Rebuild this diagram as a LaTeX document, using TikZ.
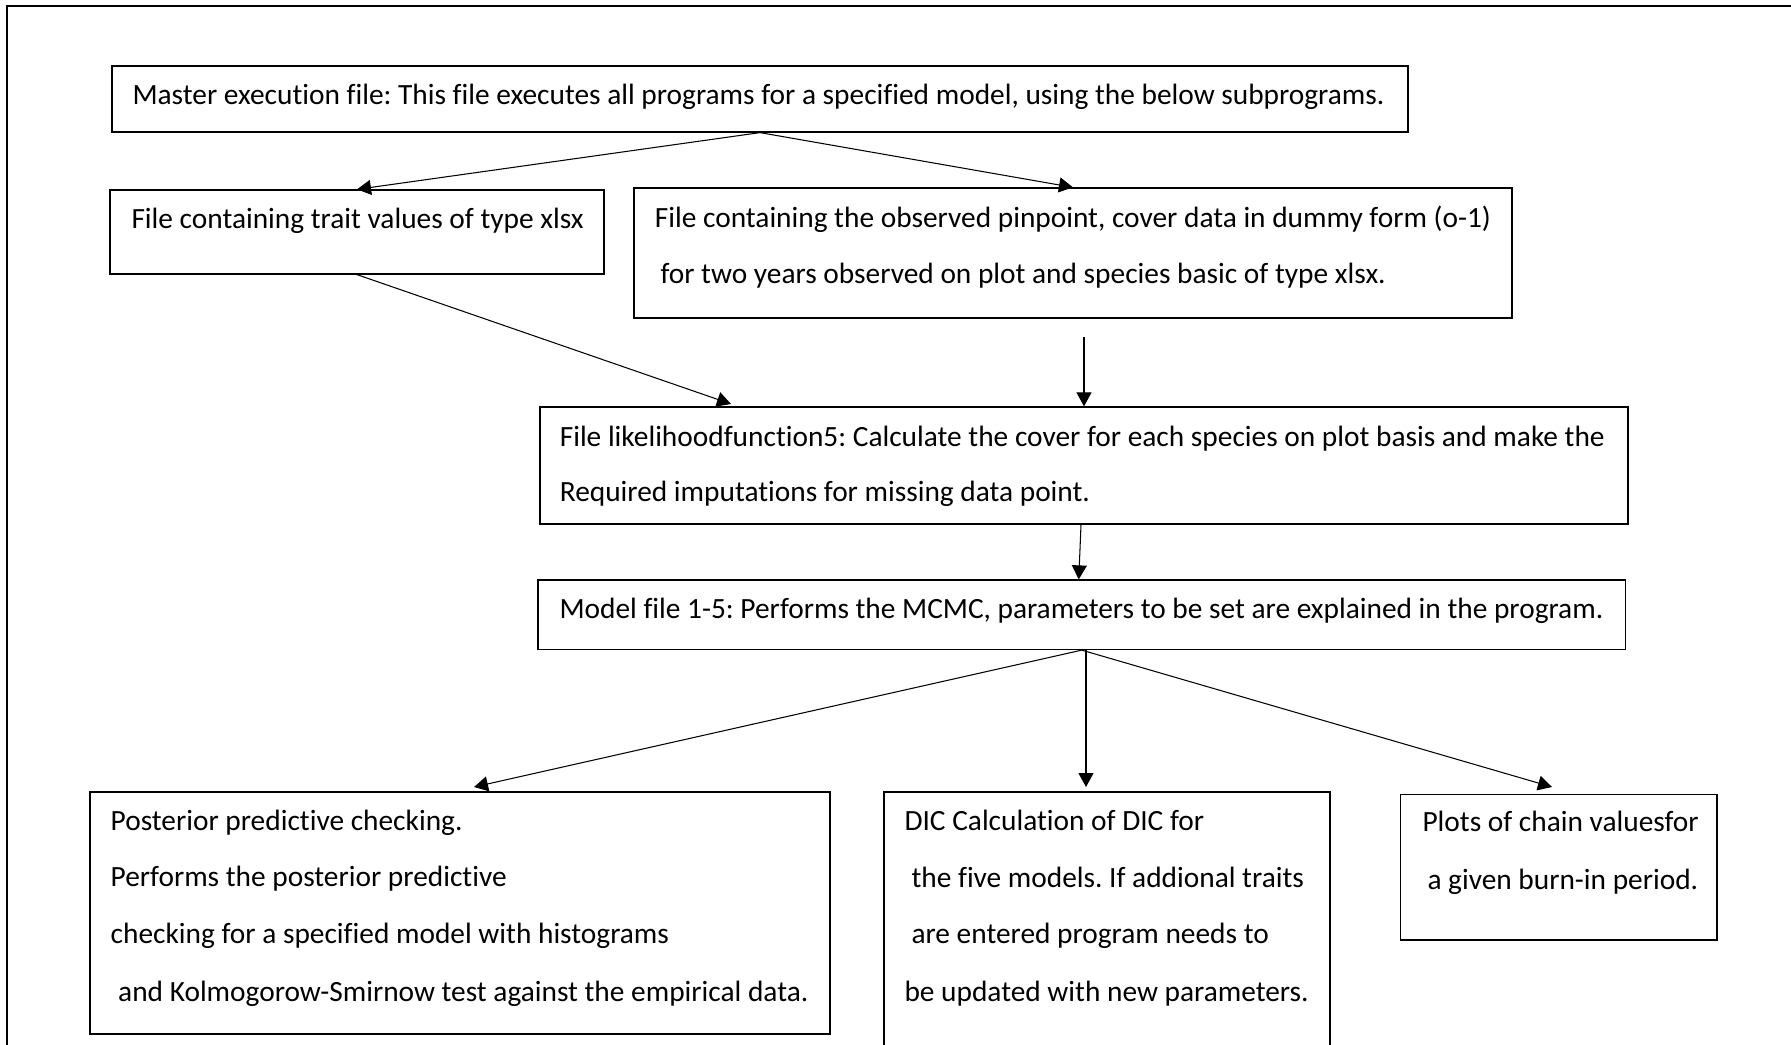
\documentclass[tikz,border=0pt]{standalone}
\usepackage{fontspec}
\setmainfont{Carlito}[Ligatures=NoCommon]
\usetikzlibrary{arrows.meta,fit}
\frenchspacing
\tikzset{
  box/.style={draw, line width=0.5pt, inner sep=0pt},
  txt/.style={anchor=base west, inner sep=0pt, font=\fontsize{11.75}{14}\selectfont},
  arr/.style={line width=0.42pt, -{Triangle[length=5.6pt,width=6pt]}},
}
\begin{document}
\begin{tikzpicture}[x=0.4pt,y=-0.4pt]
\useasboundingbox (0,0) rectangle (1791,1045);
% outer frame
\draw[line width=0.8pt] (7,1060) -- (7,6) -- (1800,6);
% boxes
\node[box, fit={(112,66) (1408,132)}] (master) {};
\node[box, fit={(110,190) (604,274)}] (trait) {};
\node[box, fit={(634,188) (1512,318)}] (data) {};
\node[box, fit={(540,407) (1628,524)}] (lik) {};
\node[box, fit={(538,580) (1625.5,649.5)}] (model) {};
\node[box, fit={(90,792) (830,1034)}] (ppc) {};
\node[box, fit={(884,792) (1330,1070)}] (dic) {};
\node[box, fit={(1400.4,794.3) (1717,940)}] (plots) {};
% texts
\node[txt] (tmaster) at (132,105) {Master execution file: This file executes all programs for a specified model, using the below subprograms.};
\node[txt] (ttrait) at (131,228.3) {File containing trait values of type xlsx};
\node[txt] (tdata1) at (654.4,227.7) {File containing the observed pinpoint, cover data in dummy form (o-1)};
\node[txt] (tdata2) at (660,283) {for two years observed on plot and species basic of type xlsx.};
\node[txt] (tlik1) at (559.3,446) {File likelihoodfunction5: Calculate the cover for each species on plot basis and make the};
\node[txt] (tlik2) at (559.3,501.7) {Required imputations for missing data point.};
\node[txt] (tmodel) at (559,618.3) {Model file 1-5: Performs the MCMC, parameters to be set are explained in the program.};
\node[txt] (tppc1) at (110.2,830) {Posterior predictive checking.};
\node[txt] (tppc2) at (110.2,886.7) {Performs the posterior predictive};
\node[txt] (tppc3) at (110.2,943.3) {checking for a specified model with histograms};
\node[txt] (tppc4) at (117.7,1001.7) {and Kolmogorow-Smirnow test against the empirical data.};
\node[txt] (tdic1) at (904,830) {DIC Calculation of DIC for};
\node[txt] (tdic2) at (911,887) {the five models. If addional traits};
\node[txt] (tdic3) at (911,943) {are entered program needs to};
\node[txt] (tdic4) at (904,1001.7) {be updated with new parameters.};
\node[txt] (tplots1) at (1422,831.7) {Plots of chain valuesfor};
\node[txt] (tplots2) at (1427,889) {a given burn-in period.};
% connector end points
\coordinate (likin) at (731,404);
\coordinate (dataout) at (1084,337);
\coordinate (ppcin) at (474,787);
\coordinate (dicin) at (1086,787);
\coordinate (plotsin) at (1552,787);
% connectors
\draw[arr] (master.south) -- (trait.north);
\draw[arr] (master.south) -- (data.north);
\draw[arr] (trait.south) -- (likin);
\draw[arr] (dataout) -- (dataout |- lik.north);
\draw[arr] ([xshift=-1.2pt]lik.south) -- ([xshift=-1.2pt]model.north);
\draw[arr] (model.south) -- (ppcin);
\draw[arr] (model.south -| dicin) -- (dicin);
\draw[arr] (model.south) -- (plotsin);
\end{tikzpicture}
\end{document}
